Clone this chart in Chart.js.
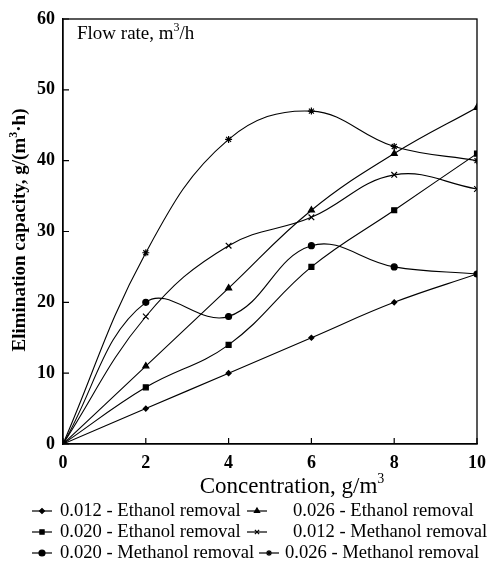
<!DOCTYPE html>
<html>
<head>
<meta charset="utf-8">
<script src="https://cdn.jsdelivr.net/npm/chart.js@4/dist/chart.umd.min.js"></script>
<style>
  html, body { margin: 0; padding: 0; background: #fff; }
  canvas { display: block; }
</style>
</head>
<body>
<canvas id="grafico" width="495" height="567"></canvas>
<script>
// Concentração (g/m3) e capacidade de eliminação (g/(m3·h)) por vazão
const concentracao = [0, 2, 4, 6, 8, 10];
const etanol012 = [0, 5, 10, 15, 20, 24];
const etanol020 = [0, 8, 14, 25, 33, 41];
const metanol020 = [0, 20, 18, 28, 25, 24];
const etanol026 = [0, 11, 22, 33, 41, 47.5];
const metanol012 = [0, 18, 28, 32, 38, 36];
const metanol026 = [0, 27, 43, 47, 42, 40];

const legendas = [
    "0.012 - Ethanol removal",
    "0.020 - Ethanol removal",
    "0.020 - Methanol removal",
    "0.026 - Ethanol removal",
    "0.012 - Methanol removal",
    "0.026 - Methanol removal"
];
const ticksX = [0, 2, 4, 6, 8, 10];
const ticksY = [0, 10, 20, 30, 40, 50, 60];

const serif = '"Liberation Serif", "DejaVu Serif", serif';

function serie(label, dados, estilo, raio) {
    return {
        label: label,
        data: dados,
        borderColor: "#000",
        backgroundColor: "#000",
        borderWidth: 1.1,
        pointStyle: estilo,
        pointRadius: raio,
        pointBorderWidth: 1.2,
        tension: 0.4,
        fill: false
    };
}

// texto com expoente pequeno (m3)
function textoExpoente(ctx, partes, x, y, tam, peso) {
    let cx = x;
    partes.forEach(p => {
        const sup = p.startsWith("^");
        const t = sup ? p.slice(1) : p;
        const f = sup ? Math.round(tam * 0.62) : tam;
        ctx.font = peso + f + "px " + serif;
        ctx.fillText(t, cx, sup ? y - tam * 0.32 : y);
        cx += ctx.measureText(t).width;
    });
    return cx - x;
}

function larguraExpoente(ctx, partes, tam, peso) {
    let w = 0;
    partes.forEach(p => {
        const sup = p.startsWith("^");
        const t = sup ? p.slice(1) : p;
        ctx.font = peso + (sup ? Math.round(tam * 0.62) : tam) + "px " + serif;
        w += ctx.measureText(t).width;
    });
    return w;
}

// moldura, marcas internas, textos e legenda desenhados à mão
const extras = {
    id: "extras",
    afterDraw(chart) {
        const ctx = chart.ctx;
        const area = chart.chartArea;
        const sx = chart.scales.x;
        const sy = chart.scales.y;
        ctx.save();
        ctx.strokeStyle = "#000";
        ctx.lineWidth = 1.3;
        ctx.strokeRect(area.left, area.top, area.right - area.left, area.bottom - area.top);

        ctx.lineWidth = 1.2;
        ctx.beginPath();
        ticksX.forEach(v => {
            const px = sx.getPixelForValue(v);
            ctx.moveTo(px, area.bottom);
            ctx.lineTo(px, area.bottom - 6);
        });
        ticksY.forEach(v => {
            const py = sy.getPixelForValue(v);
            ctx.moveTo(area.left, py);
            ctx.lineTo(area.left + 6, py);
        });
        ctx.stroke();

        ctx.fillStyle = "#000";
        ctx.textBaseline = "middle";
        ctx.textAlign = "left";

        // texto dentro do gráfico
        textoExpoente(ctx, ["Flow rate, m", "^3", "/h"], 77, 34, 19, "");

        // título do eixo x
        const px = ["Concentration, g/m", "^3"];
        const lx = larguraExpoente(ctx, px, 23, "");
        textoExpoente(ctx, px, 292 - lx / 2, 487, 23, "");

        // título do eixo y
        ctx.save();
        ctx.translate(20, 230);
        ctx.rotate(-Math.PI / 2);
        const py = ["Elimination capacity, g/(m", "^3", "·h)"];
        const ly = larguraExpoente(ctx, py, 19, "bold ");
        textoExpoente(ctx, py, -ly / 2, 0, 19, "bold ");
        ctx.restore();

        // legenda em duas colunas
        const linhas = [511, 532, 553];
        const marcas = [32, 32, 32, 247, 247, 259];
        const textos = [60, 60, 60, 293, 293, 285];
        chart.data.datasets.forEach((ds, i) => {
            const y = linhas[i % 3];
            const mx = marcas[i];
            ctx.lineWidth = 1.2;
            ctx.beginPath();
            ctx.moveTo(mx, y);
            ctx.lineTo(mx + 20, y);
            ctx.stroke();
            Chart.helpers.drawPoint(ctx, {
                pointStyle: ds.pointStyle,
                radius: Math.min(ds.pointRadius, 3),
                borderWidth: 1.2
            }, mx + 10, y);
            ctx.font = "18.6px " + serif;
            ctx.fillText(ds.label, textos[i], y);
        });
        ctx.restore();
    }
};

new Chart(document.getElementById("grafico").getContext("2d"), {
    type: "line",
    data: {
        datasets: [
            serie(legendas[0], concentracao.map((x, i) => ({ x: x, y: etanol012[i] })), "rectRot", 2.5),
            serie(legendas[1], concentracao.map((x, i) => ({ x: x, y: etanol020[i] })), "rect", 3.5),
            serie(legendas[2], concentracao.map((x, i) => ({ x: x, y: metanol020[i] })), "circle", 3),
            serie(legendas[3], concentracao.map((x, i) => ({ x: x, y: etanol026[i] })), "triangle", 3.5),
            serie(legendas[4], concentracao.map((x, i) => ({ x: x, y: metanol012[i] })), "crossRot", 4),
            serie(legendas[5], concentracao.map((x, i) => ({ x: x, y: metanol026[i] })), "star", 3.5)
        ]
    },
    options: {
        responsive: false,
        animation: false,
        layout: { padding: { left: 0, right: 8, top: 19, bottom: 93 } },
        plugins: {
            legend: { display: false },
            tooltip: { enabled: false }
        },
        scales: {
            x: {
                type: "linear",
                min: 0,
                max: 10,
                afterFit: s => { s.height = 30; },
                afterBuildTicks: s => { s.ticks = ticksX.map(v => ({ value: v })); },
                grid: { display: false, tickLength: 0 },
                border: { display: true, color: "#000", width: 1.3 },
                ticks: {
                    color: "#000",
                    padding: 9,
                    font: { family: serif, size: 18, weight: "bold" }
                }
            },
            y: {
                min: 0,
                max: 60,
                afterFit: s => { s.width = 63; },
                afterBuildTicks: s => { s.ticks = ticksY.map(v => ({ value: v })); },
                grid: { display: false, tickLength: 0 },
                border: { display: true, color: "#000", width: 1.3 },
                ticks: {
                    color: "#000",
                    padding: 8,
                    font: { family: serif, size: 18, weight: "bold" }
                }
            }
        }
    },
    plugins: [extras]
});
</script>
</body>
</html>
